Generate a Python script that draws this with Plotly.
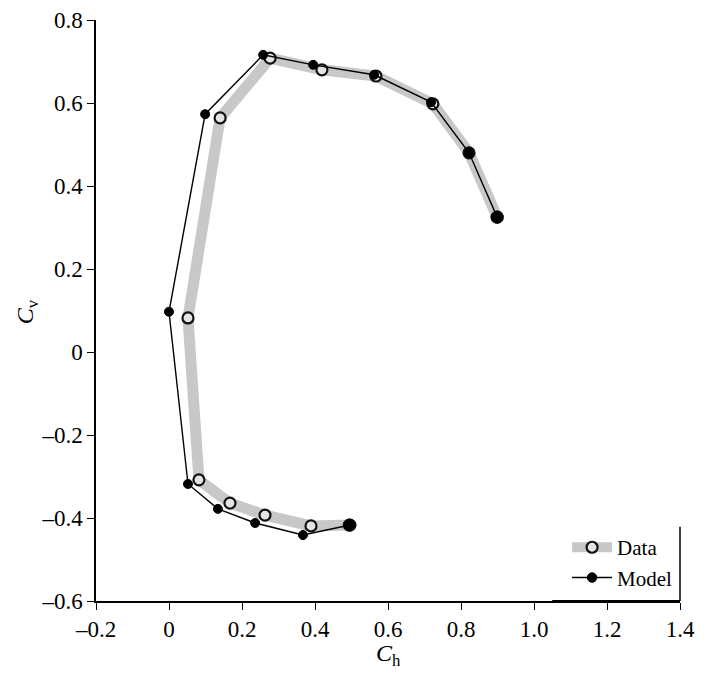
import plotly.graph_objects as go

# Measured data (open circles, thick gray line)
data_ch = [0.899, 0.822, 0.723, 0.567, 0.419, 0.277, 0.140, 0.052, 0.082, 0.167, 0.263, 0.389, 0.494]
data_cv = [0.325, 0.480, 0.598, 0.665, 0.680, 0.708, 0.564, 0.082, -0.308, -0.364, -0.393, -0.419, -0.417]

# Model (filled dots, thin black line)
model_ch = [0.899, 0.822, 0.718, 0.562, 0.395, 0.258, 0.099, 0.000, 0.052, 0.134, 0.236, 0.367, 0.496]
model_cv = [0.325, 0.480, 0.602, 0.668, 0.692, 0.716, 0.573, 0.097, -0.318, -0.378, -0.412, -0.441, -0.417]

x_ticks = [-0.2, 0, 0.2, 0.4, 0.6, 0.8, 1.0, 1.2, 1.4]
x_labels = ["–0.2", "0", "0.2", "0.4", "0.6", "0.8", "1.0", "1.2", "1.4"]
y_ticks = [-0.6, -0.4, -0.2, 0, 0.2, 0.4, 0.6, 0.8]
y_labels = ["–0.6", "–0.4", "–0.2", "0", "0.2", "0.4", "0.6", "0.8"]

FONT = "Liberation Serif"

fig = go.Figure()
fig.add_trace(go.Scatter(
    x=data_ch, y=data_cv, mode="lines+markers", name="Data",
    line=dict(color="#c8c8c8", width=11),
    marker=dict(symbol="circle", size=11, color="#e4e4e4",
                line=dict(color="#111111", width=2.2)),
))
fig.add_trace(go.Scatter(
    x=model_ch, y=model_cv, mode="lines+markers", name="Model",
    line=dict(color="#000000", width=1.4),
    marker=dict(symbol="circle", size=[12] + [9] * 11 + [12], color="#000000",
                opacity=1, line=dict(color="#000000", width=1)),
))

fig.update_xaxes(
    range=[-0.2, 1.4], tickvals=x_ticks, ticktext=x_labels,
    showgrid=False, zeroline=False, showline=True, linecolor="black", linewidth=1.5,
    ticks="outside", ticklen=7, tickwidth=1.2, tickcolor="black",
    ticklabeloverflow="allow", automargin=False,
    tickfont=dict(family=FONT, size=23, color="black"),
)
fig.update_yaxes(
    range=[-0.6, 0.8], tickvals=y_ticks, ticktext=y_labels,
    showgrid=False, zeroline=False, showline=True, linecolor="black", linewidth=1.5,
    ticks="outside", ticklen=7, tickwidth=1.2, tickcolor="black",
    ticklabeloverflow="allow", automargin=False,
    tickfont=dict(family=FONT, size=23, color="black"),
)

# axis titles
fig.add_annotation(text="<i>C</i><sub>h</sub>", xref="paper", yref="paper",
                   x=0.5, y=-0.093, xanchor="center", yanchor="middle", showarrow=False,
                   font=dict(family=FONT, size=24, color="black"))
fig.add_annotation(text="<i>C</i><sub>v</sub>", xref="paper", yref="paper",
                   x=-0.118, y=0.497, xanchor="center", yanchor="middle", showarrow=False,
                   textangle=-90, font=dict(family=FONT, size=24, color="black"))

# partial legend frame (right and bottom edges)
fig.add_shape(type="line", xref="paper", yref="paper", x0=1, x1=1, y0=0, y1=0.128,
              line=dict(color="black", width=1.5))
fig.add_shape(type="line", xref="x", yref="paper", x0=1.05, x1=1.4, y0=0, y1=0,
              line=dict(color="black", width=2))

# page body has an 8px margin, so the figure is sized/offset to compensate
fig.update_layout(
    width=700, height=671,
    margin=dict(l=88, r=28, t=12, b=78, autoexpand=False),
    plot_bgcolor="white", paper_bgcolor="white",
    showlegend=True,
    legend=dict(x=0.995, y=0.005, xanchor="right", yanchor="bottom",
                bgcolor="rgba(0,0,0,0)", font=dict(family=FONT, size=21, color="black"),
                tracegroupgap=0, itemwidth=40),
    font=dict(family=FONT),
)

fig.write_html("out.html")
